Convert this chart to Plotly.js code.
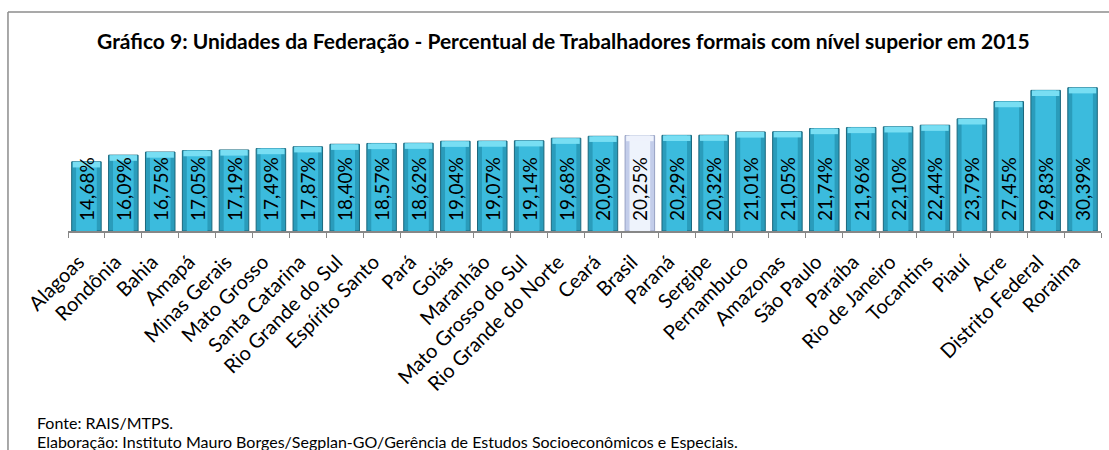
<!DOCTYPE html>
<html>
<head>
<meta charset="utf-8">
<script src="https://cdn.plot.ly/plotly-3.0.1.min.js"></script>
<style>
html,body{margin:0;padding:0;background:#fff;overflow:hidden;}
#chart{width:1109px;height:450px;}
</style>
</head>
<body>
<div id="chart"></div>
<script>
const categories = ["Alagoas","Rondônia","Bahia","Amapá","Minas Gerais","Mato Grosso","Santa Catarina","Rio Grande do Sul","Espírito Santo","Pará","Goiás","Maranhão","Mato Grosso do Sul","Rio Grande do Norte","Ceará","Brasil","Paraná","Sergipe","Pernambuco","Amazonas","São Paulo","Paraíba","Rio de Janeiro","Tocantins","Piauí","Acre","Distrito Federal","Roraima"];
const values = [14.68,16.09,16.75,17.05,17.19,17.49,17.87,18.40,18.57,18.62,19.04,19.07,19.14,19.68,20.09,20.25,20.29,20.32,21.01,21.05,21.74,21.96,22.10,22.44,23.79,27.45,29.83,30.39];
const labels = values.map(v => v.toFixed(2).replace('.', ',') + '%');
const highlight = "Brasil";

const isH = categories.map(c => c === highlight);
const baseColor = isH.map(h => h ? '#c3cdea' : '#2a9cbb');
const baseLine = isH.map(h => h ? '#98a3c4' : '#1b677c');
const midColor = isH.map(h => h ? 'rgba(240,244,253,0.95)' : 'rgba(60,189,222,0.95)');
const capColor = isH.map(h => h ? '#eef2fc' : '#78def3');
const capH = 1.2;
const textPad = 1.5;

const traces = [
  {type:'bar', x:categories, y:values, width:0.8,
   marker:{color:baseColor, line:{color:baseLine, width:1}},
   hoverinfo:'skip', showlegend:false},
  {type:'bar', x:categories, y:values, width:0.56,
   marker:{color:midColor, line:{width:0}},
   hoverinfo:'skip', showlegend:false},
  {type:'bar', x:categories, y:values.map(() => capH), base:values.map(v => v - capH), width:0.74,
   marker:{color:capColor, line:{width:0}},
   hoverinfo:'skip', showlegend:false},
  {type:'bar', x:categories, y:values.map(v => v - textPad), base:values.map(() => textPad), width:0.8,
   marker:{color:'rgba(0,0,0,0)', line:{width:0}},
   text:labels, textposition:'inside', insidetextanchor:'start', textangle:-90,
   constraintext:'none', cliponaxis:false,
   textfont:{family:'Lato, sans-serif', size:19, color:'#000'},
   hoverinfo:'skip', showlegend:false}
];

const layout = {
  width:1109, height:450,
  margin:{l:68, r:8, t:66, b:219},
  paper_bgcolor:'#fff', plot_bgcolor:'rgba(0,0,0,0)',
  barmode:'overlay',
  title:{text:'<b>Gráfico 9: Unidades da Federação - Percentual de Trabalhadores formais com nível superior em 2015</b>',
         font:{family:'Lato, sans-serif', size:21, color:'#000'},
         x:0.508, xanchor:'center', xref:'container', y:0.907, yanchor:'middle', yref:'container'},
  xaxis:{type:'category', tickangle:-45, tickson:'boundaries', ticks:'outside', ticklen:5,
         ticklabelstandoff:10, ticklabelshift:-8,
         tickcolor:'#878787', showline:true, linecolor:'#878787', linewidth:1.5,
         tickfont:{family:'Lato, sans-serif', size:20, color:'#000'}, showgrid:false, fixedrange:true},
  yaxis:{range:[0,35], visible:false, showgrid:false, zeroline:false, fixedrange:true},
  annotations:[
    {text:'Fonte: RAIS/MTPS.', xref:'paper', yref:'paper', x:-0.032, y:-1.158, xanchor:'left', yanchor:'middle', showarrow:false,
     font:{family:'Lato, sans-serif', size:16, color:'#000'}},
    {text:'Elaboração: Instituto Mauro Borges/Segplan-GO/Gerência de Estudos Socioeconômicos e Especiais.', xref:'paper', yref:'paper', x:-0.032, y:-1.275, xanchor:'left', yanchor:'middle', showarrow:false,
     font:{family:'Lato, sans-serif', size:16, color:'#000'}}
  ],
  shapes:[
    {type:'line', xref:'paper', yref:'paper', x0:-0.0581, x1:-0.0581, y0:1.327, y1:-1.6, line:{color:'#8c8c8c', width:1.5}},
    {type:'line', xref:'paper', yref:'paper', x0:-0.0581, x1:1.01, y0:1.327, y1:1.327, line:{color:'#8c8c8c', width:1.5}}
  ]
};

Plotly.newPlot('chart', traces, layout, {displayModeBar:false, staticPlot:true});
</script>
</body>
</html>
